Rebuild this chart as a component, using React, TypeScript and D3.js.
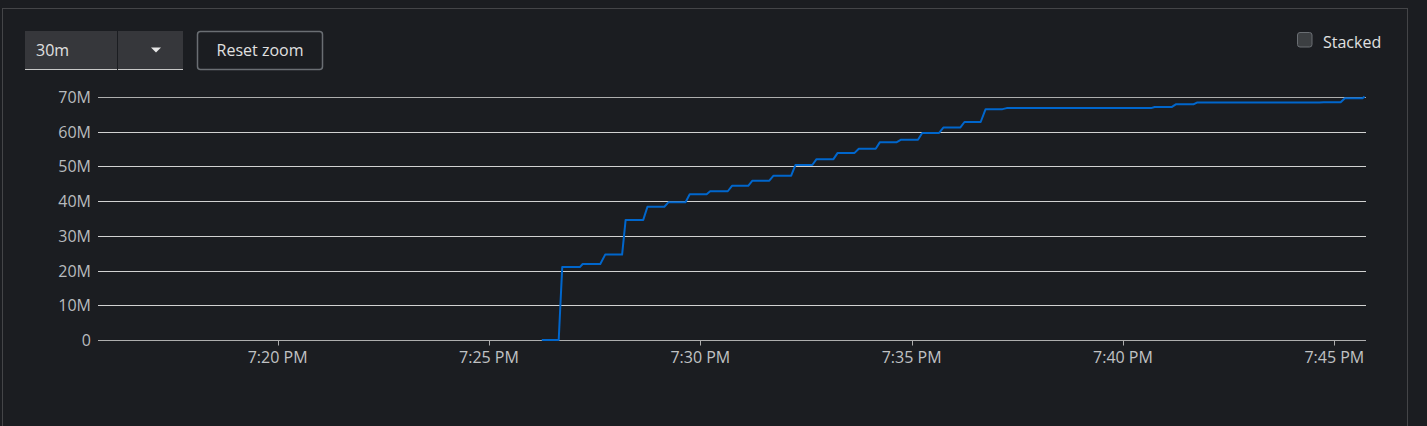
import React from "react";
import * as d3 from "d3";

const W = 1427;
const H = 426;

const sampleTimes: string[] = [
  "19:26:15", "19:26:39", "19:26:44", "19:27:09", "19:27:13", "19:27:38", "19:27:45",
  "19:28:09", "19:28:14", "19:28:39", "19:28:45", "19:29:09", "19:29:15", "19:29:39",
  "19:29:45", "19:30:09", "19:30:14", "19:30:39", "19:30:45", "19:31:08", "19:31:14",
  "19:31:38", "19:31:44", "19:32:09", "19:32:15", "19:32:39", "19:32:45", "19:33:09",
  "19:33:15", "19:33:39", "19:33:45", "19:34:09", "19:34:15", "19:34:39", "19:34:45",
  "19:35:09", "19:35:15", "19:35:39", "19:35:45", "19:36:09", "19:36:15", "19:36:38",
  "19:36:45", "19:37:09", "19:37:15", "19:40:40", "19:40:45", "19:41:09", "19:41:15",
  "19:41:40", "19:41:45", "19:44:39", "19:44:45", "19:45:09", "19:45:15", "19:45:40",
  "19:45:43",
];

const sampleValuesM: number[] = [
  0, 0, 21.0, 21.0, 21.9, 21.9, 24.6,
  24.6, 34.6, 34.6, 38.4, 38.4, 39.7, 39.7,
  42.0, 42.0, 42.85, 42.85, 44.4, 44.4, 45.9,
  45.9, 47.35, 47.35, 50.4, 50.4, 52.1, 52.1,
  53.9, 53.9, 55.1, 55.1, 57.0, 57.0, 57.7,
  57.7, 59.65, 59.65, 61.2, 61.2, 62.8, 62.8,
  66.5, 66.5, 66.8, 66.8, 67.1, 67.1, 67.9,
  67.9, 68.4, 68.4, 68.5, 68.5, 69.65, 69.65,
  70.1,
];

const yTicksM: number[] = [0, 10, 20, 30, 40, 50, 60, 70];
const timeDomain: string[] = ["19:15:45", "19:45:45"];
const rangeLabel = "30m";
const resetLabel = "Reset zoom";
const stackedLabel = "Stacked";

const FONT = "'Open Sans', 'Liberation Sans', sans-serif";

function toDate(s: string): Date {
  const [h, m, sec] = s.split(":").map(Number);
  return new Date(2024, 0, 15, h, m, sec);
}

export default function App() {
  const x = d3
    .scaleTime()
    .domain(timeDomain.map(toDate) as [Date, Date])
    .range([98, 1366]);
  const y = d3.scaleLinear().domain([0, 70]).range([340, 97]);

  const data = sampleTimes.map((t, i) => ({ t: toDate(t), v: sampleValuesM[i] }));
  const line = d3
    .line<{ t: Date; v: number }>()
    .x((d) => x(d.t))
    .y((d) => y(d.v));

  const xTicks = x.ticks(d3.timeMinute.every(5)!);
  const fmt = d3.timeFormat("%-I:%M %p");
  const [x0, x1] = x.range();

  return (
    <div style={{ position: "absolute", left: 0, top: 0, width: W, height: H, background: "#1b1d21" }}>
      <svg width={W} height={H} style={{ display: "block", fontFamily: FONT }}>
        <rect x={0} y={0} width={W} height={H} fill="#1b1d21" />
        {/* panel border */}
        <rect x={2.5} y={8.5} width={1405} height={H + 20} fill="none" stroke="#444548" strokeWidth={1} />

        {/* range selector */}
        <rect x={25} y={31} width={92} height={39} fill="#36373b" />
        <rect x={118} y={31} width={65} height={39} fill="#36373b" />
        <line x1={25} x2={117} y1={69.5} y2={69.5} stroke="#c8c8c8" strokeWidth={1} />
        <line x1={118} x2={183} y1={69.5} y2={69.5} stroke="#c8c8c8" strokeWidth={1} />
        <text x={36} y={55.5} fontSize={16} fill="#e0e0e0">{rangeLabel}</text>
        <path d="M151,47.5 L161,47.5 L156,52.5 Z" fill="#e8e8e8" />

        {/* reset zoom button */}
        <rect x={197.5} y={31.5} width={125} height={38} rx={3} fill="#1b1d21" stroke="#6a6e73" strokeWidth={1.5} />
        <text x={260} y={55.5} fontSize={16} fill="#e0e0e0" textAnchor="middle">{resetLabel}</text>

        {/* stacked checkbox */}
        <rect x={1297.5} y={32.5} width={14.5} height={14.5} rx={2.5} fill="#3c3f42" stroke="#6a6e73" strokeWidth={1} />
        <text x={1323} y={48} fontSize={16} fill="#e0e0e0">{stackedLabel}</text>

        {/* gridlines and y labels */}
        {yTicksM.map((v, i) => {
          const yy = Math.round(y(v)) + 0.5;
          const edge = i === 0 || i === yTicksM.length - 1;
          return (
            <g key={v}>
              <line x1={x0} x2={x1} y1={yy} y2={yy} stroke={edge ? "#aeaeae" : "#d2d2d2"} strokeWidth={1} />
              <text x={91} y={y(v) + 6} fontSize={16} fill="#b8bbbe" textAnchor="end">
                {v === 0 ? "0" : `${v}M`}
              </text>
            </g>
          );
        })}

        {/* x ticks */}
        {xTicks.map((t) => {
          const xx = Math.round(x(t)) + 0.5;
          return (
            <g key={t.getTime()}>
              <line x1={xx} x2={xx} y1={340} y2={345.5} stroke="#aeaeae" strokeWidth={1} />
              <text x={x(t)} y={362.5} fontSize={16} fill="#c0c2c4" textAnchor="middle">
                {fmt(t)}
              </text>
            </g>
          );
        })}

        {/* series */}
        <path d={line(data) || ""} fill="none" stroke="#0066cc" strokeWidth={2} strokeLinejoin="round" />
      </svg>
    </div>
  );
}
